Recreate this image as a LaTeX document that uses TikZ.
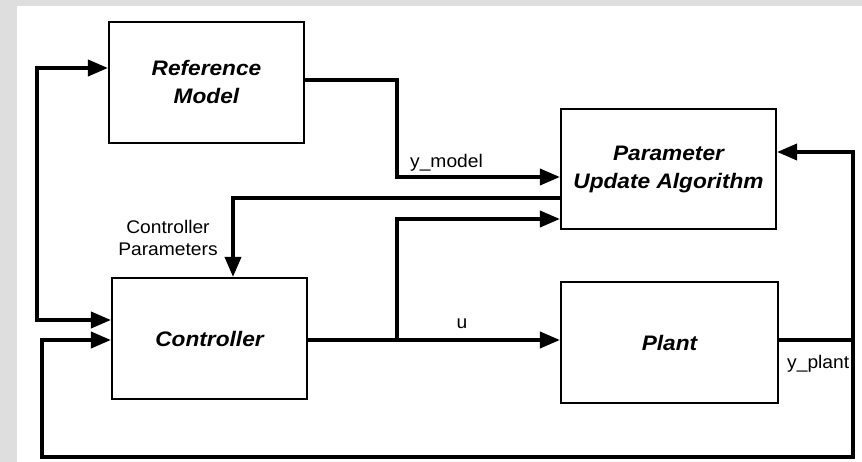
\documentclass[tikz,border=0pt]{standalone}
\usepackage{fontspec}
\setmainfont{Liberation Sans}
\newfontfamily\boxfont[FakeStretch=1.08]{Liberation Sans}
\newfontfamily\lblfont[FakeStretch=1.05]{Liberation Sans}
\usetikzlibrary{arrows.meta}
\definecolor{bggray}{HTML}{DEDEDE}
\tikzset{
  blk/.style={draw=black, line width=2.1pt, fill=white, inner sep=0pt, align=center,
    font=\boxfont\bfseries\itshape\fontsize{21}{28}\selectfont},
  conn/.style={line width=3.6pt, line join=miter, -{Triangle[length=20pt,width=16pt]}},
  conn2/.style={line width=3.6pt, line join=miter, {Triangle[length=20pt,width=16pt]}-{Triangle[length=20pt,width=16pt]}},
  lbl/.style={inner sep=0pt, font=\lblfont\fontsize{18.3}{22}\selectfont, align=center},
}
\begin{document}
\begin{tikzpicture}[x=1pt,y=-1pt]
\useasboundingbox (0,0) rectangle (862,462);
\fill[bggray] (0,0) rectangle (862,462);
\fill[white] (17,6) rectangle (862,462);

\node[blk, minimum width=195pt, minimum height=121pt] (ref) at (206.5,82.5) {Reference\\Model};
\node[blk, minimum width=215pt, minimum height=120pt] (pua) at (668.5,169) {Parameter\\Update Algorithm};
\node[blk, minimum width=195pt, minimum height=121pt] (ctrl) at (209.5,338.5) {Controller};
\node[blk, minimum width=217pt, minimum height=121pt] (plant) at (669.5,342.5) {Plant};

% coordinates
\coordinate (lt) at (37,68);
\coordinate (lb) at (37,320);
\coordinate (ym1) at (397,80);
\coordinate (ym2) at (397,177);
\coordinate (cp1) at (233,198);
\coordinate (br) at (397,340);
\coordinate (br2) at (397,219);
\coordinate (yp) at (853,340);
\coordinate (ypt) at (853,152);
\coordinate (ypb) at (853,457);
\coordinate (fbb) at (42,457);
\coordinate (fbt) at (42,340);

% reference signal
\draw[conn2] (ref.west |- lt) -- (lt) -- (lb) -- (ctrl.west |- lb);
% y_model
\draw[conn] (ref.east |- ym1) -- (ym1) -- (ym2) -- (pua.west |- ym2);
% controller parameters
\draw[conn] (pua.west |- cp1) -- (cp1) -- (cp1 |- ctrl.north);
% u
\draw[conn] (ctrl.east |- br) -- (plant.west |- br);
\draw[conn] (br) -- (br2) -- (pua.west |- br2);
% y_plant
\draw[conn] (plant.east |- yp) -- (yp) -- (ypt) -- (pua.east |- ypt);
\draw[conn] (yp) -- (ypb) -- (fbb) -- (fbt) -- (ctrl.west |- fbt);

% labels
\node[lbl, anchor=base west] (lym) at (410,168) {y\_model};
\node[lbl] (lcp) at (168,237.5) {Controller\\Parameters};
\node[lbl, anchor=base] (lu) at (462,329) {u};
\node[lbl, anchor=base west] (lyp) at (787,368) {y\_plant};
\end{tikzpicture}
\end{document}
